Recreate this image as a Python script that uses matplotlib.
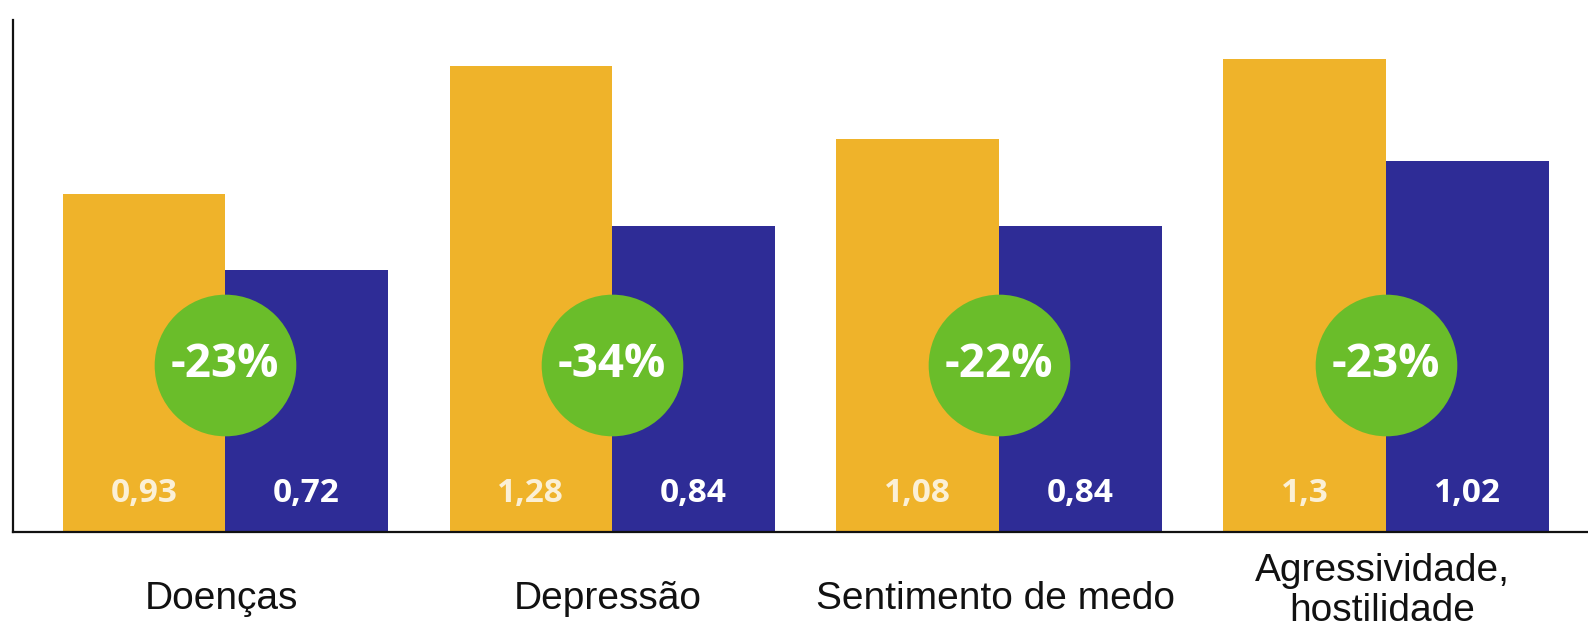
import matplotlib.pyplot as plt
import numpy as np

# Dados do gráfico
categorias = ['Doenças', 'Depressão', 'Sentimento de medo', 'Agressividade,\nhostilidade']
antes = [0.93, 1.28, 1.08, 1.3]
depois = [0.72, 0.84, 0.84, 1.02]
rotulos_antes = ['0,93', '1,28', '1,08', '1,3']
rotulos_depois = ['0,72', '0,84', '0,84', '1,02']
reducao = ['-23%', '-34%', '-22%', '-23%']

cor_laranja = '#EFB32A'
cor_azul = '#2E2C96'
cor_verde = '#6ABD2A'


def main():
    fig = plt.figure(figsize=(15.88, 6.32), dpi=100)
    # eixo: esquerda 13px, base 532px, topo 20px
    ax = fig.add_axes([13 / 1588, 1 - 532 / 632, 1 - 13 / 1588, (532 - 20) / 632])

    x = np.arange(len(categorias))
    w = 0.42

    ax.bar(x - w / 2, antes, width=w, color=cor_laranja, zorder=2)
    ax.bar(x + w / 2, depois, width=w, color=cor_azul, zorder=2)

    # círculos verdes com a redução percentual
    ax.scatter(x, [0.46] * len(x), s=102 ** 2, color=cor_verde, zorder=3,
               linewidths=0)
    for xi, r in zip(x, reducao):
        ax.text(xi, 0.46, r, ha='center', va='center', color='white',
                fontsize=33, fontweight='bold', family='Open Sans', zorder=4)

    # valores dentro das barras
    for xi, a, d in zip(x, rotulos_antes, rotulos_depois):
        ax.text(xi - w / 2, 0.105, a, ha='center', va='center', color='#FBF0D6',
                fontsize=24, fontweight='bold', family='Open Sans', zorder=4)
        ax.text(xi + w / 2, 0.105, d, ha='center', va='center', color='white',
                fontsize=24, fontweight='bold', family='Open Sans', zorder=4)

    # nomes das categorias
    for xi, c in zip(x, categorias):
        y = -0.162 if '\n' in c else -0.185
        ax.text(xi - 0.01, y, c, ha='center', va='center', color='#111111',
                fontsize=28, family='Liberation Sans', linespacing=1.12,
                clip_on=False)

    ax.set_xlim(-0.548, 3.522)
    ax.set_ylim(0, 1.407)
    ax.set_xticks([])
    ax.set_yticks([])
    for s in ['top', 'right']:
        ax.spines[s].set_visible(False)
    for s in ['left', 'bottom']:
        ax.spines[s].set_linewidth(1.6)
        ax.spines[s].set_color('#111111')

    fig.savefig('out.png', dpi=100)


if __name__ == "__main__":
    main()
